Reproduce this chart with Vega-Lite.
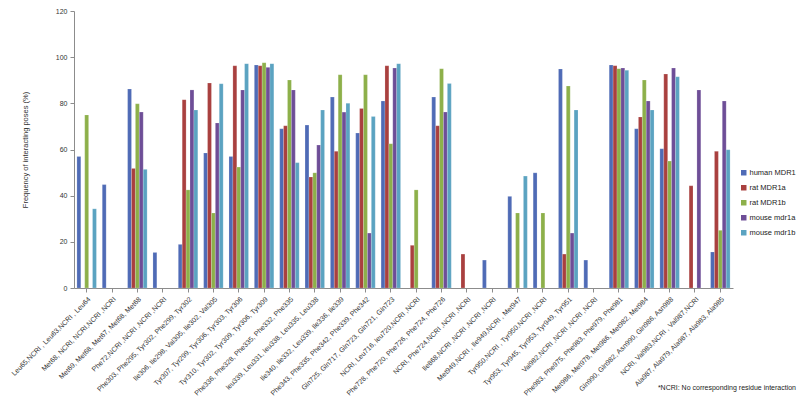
{
  "$schema": "https://vega.github.io/schema/vega-lite/v6.json",
  "width": 659,
  "height": 277,
  "autosize": {"type": "pad"},
  "padding": {"left": 9, "top": 7, "right": 7, "bottom": 0},
  "background": "white",
  "title": {
    "text": "*NCRI: No corresponding residue interaction",
    "orient": "bottom",
    "anchor": "end",
    "frame": "bounds",
    "font": "Liberation Sans",
    "fontSize": 7,
    "fontWeight": "normal",
    "color": "#222222",
    "offset": -12
  },
  "config": {
    "view": {"stroke": null},
    "font": "Liberation Sans",
    "axis": {
      "grid": false,
      "domainColor": "#8c8c8c",
      "tickColor": "#8c8c8c",
      "labelColor": "#333333",
      "labelFont": "Liberation Sans",
      "labelFontSize": 7,
      "titleFont": "Liberation Sans",
      "titleFontWeight": "normal",
      "titleFontSize": 7.5,
      "titleColor": "#333333"
    }
  },
  "data": {
    "values": [
      {"residue": "Leu65,NCRI , Leu63,NCRI , Leu64", "species": "human MDR1", "value": 57},
      {"residue": "Leu65,NCRI , Leu63,NCRI , Leu64", "species": "rat MDR1b", "value": 75},
      {"residue": "Leu65,NCRI , Leu63,NCRI , Leu64", "species": "mouse mdr1b", "value": 34.3},
      {"residue": "Met68, NCRI, NCRI,NCRI ,NCRI", "species": "human MDR1", "value": 44.8},
      {"residue": "Met69, Met68, Met67, Met68, Met68", "species": "human MDR1", "value": 86.2},
      {"residue": "Met69, Met68, Met67, Met68, Met68", "species": "rat MDR1a", "value": 51.8},
      {"residue": "Met69, Met68, Met67, Met68, Met68", "species": "rat MDR1b", "value": 79.8},
      {"residue": "Met69, Met68, Met67, Met68, Met68", "species": "mouse mdr1a", "value": 76.2},
      {"residue": "Met69, Met68, Met67, Met68, Met68", "species": "mouse mdr1b", "value": 51.4},
      {"residue": "Phe72,NCRI ,NCRI ,NCRI ,NCRI", "species": "human MDR1", "value": 15.4},
      {"residue": "Phe303, Phe295, Tyr302, Phe299, Tyr302", "species": "human MDR1", "value": 18.9},
      {"residue": "Phe303, Phe295, Tyr302, Phe299, Tyr302", "species": "rat MDR1a", "value": 81.6},
      {"residue": "Phe303, Phe295, Tyr302, Phe299, Tyr302", "species": "rat MDR1b", "value": 42.5},
      {"residue": "Phe303, Phe295, Tyr302, Phe299, Tyr302", "species": "mouse mdr1a", "value": 85.8},
      {"residue": "Phe303, Phe295, Tyr302, Phe299, Tyr302", "species": "mouse mdr1b", "value": 77.1},
      {"residue": "Ile306, Ile298, Val305, Ile302, Val305", "species": "human MDR1", "value": 58.5},
      {"residue": "Ile306, Ile298, Val305, Ile302, Val305", "species": "rat MDR1a", "value": 88.8},
      {"residue": "Ile306, Ile298, Val305, Ile302, Val305", "species": "rat MDR1b", "value": 32.5},
      {"residue": "Ile306, Ile298, Val305, Ile302, Val305", "species": "mouse mdr1a", "value": 71.5},
      {"residue": "Ile306, Ile298, Val305, Ile302, Val305", "species": "mouse mdr1b", "value": 88.5},
      {"residue": "Tyr307, Tyr299, Tyr306, Tyr303, Tyr306", "species": "human MDR1", "value": 57},
      {"residue": "Tyr307, Tyr299, Tyr306, Tyr303, Tyr306", "species": "rat MDR1a", "value": 96.3},
      {"residue": "Tyr307, Tyr299, Tyr306, Tyr303, Tyr306", "species": "rat MDR1b", "value": 52.4},
      {"residue": "Tyr307, Tyr299, Tyr306, Tyr303, Tyr306", "species": "mouse mdr1a", "value": 85.8},
      {"residue": "Tyr307, Tyr299, Tyr306, Tyr303, Tyr306", "species": "mouse mdr1b", "value": 97.2},
      {"residue": "Tyr310, Tyr302, Tyr309, Tyr306, Tyr309", "species": "human MDR1", "value": 96.6},
      {"residue": "Tyr310, Tyr302, Tyr309, Tyr306, Tyr309", "species": "rat MDR1a", "value": 96.3},
      {"residue": "Tyr310, Tyr302, Tyr309, Tyr306, Tyr309", "species": "rat MDR1b", "value": 97.6},
      {"residue": "Tyr310, Tyr302, Tyr309, Tyr306, Tyr309", "species": "mouse mdr1a", "value": 95.6},
      {"residue": "Tyr310, Tyr302, Tyr309, Tyr306, Tyr309", "species": "mouse mdr1b", "value": 97.2},
      {"residue": "Phe336, Phe328, Phe335, Phe332, Phe335", "species": "human MDR1", "value": 69},
      {"residue": "Phe336, Phe328, Phe335, Phe332, Phe335", "species": "rat MDR1a", "value": 70.3},
      {"residue": "Phe336, Phe328, Phe335, Phe332, Phe335", "species": "rat MDR1b", "value": 90.1},
      {"residue": "Phe336, Phe328, Phe335, Phe332, Phe335", "species": "mouse mdr1a", "value": 85.8},
      {"residue": "Phe336, Phe328, Phe335, Phe332, Phe335", "species": "mouse mdr1b", "value": 54.3},
      {"residue": "leu339, Leu331, leu338, Leu335, Leu338", "species": "human MDR1", "value": 70.6},
      {"residue": "leu339, Leu331, leu338, Leu335, Leu338", "species": "rat MDR1a", "value": 48.1},
      {"residue": "leu339, Leu331, leu338, Leu335, Leu338", "species": "rat MDR1b", "value": 49.9},
      {"residue": "leu339, Leu331, leu338, Leu335, Leu338", "species": "mouse mdr1a", "value": 61.9},
      {"residue": "leu339, Leu331, leu338, Leu335, Leu338", "species": "mouse mdr1b", "value": 77.1},
      {"residue": "Ile340, Ile332, Leu339, Ile336, Ile339", "species": "human MDR1", "value": 82.7},
      {"residue": "Ile340, Ile332, Leu339, Ile336, Ile339", "species": "rat MDR1a", "value": 59.2},
      {"residue": "Ile340, Ile332, Leu339, Ile336, Ile339", "species": "rat MDR1b", "value": 92.4},
      {"residue": "Ile340, Ile332, Leu339, Ile336, Ile339", "species": "mouse mdr1a", "value": 76.2},
      {"residue": "Ile340, Ile332, Leu339, Ile336, Ile339", "species": "mouse mdr1b", "value": 80},
      {"residue": "Phe343, Phe335, Phe342, Phe339, Phe342", "species": "human MDR1", "value": 67.1},
      {"residue": "Phe343, Phe335, Phe342, Phe339, Phe342", "species": "rat MDR1a", "value": 77.8},
      {"residue": "Phe343, Phe335, Phe342, Phe339, Phe342", "species": "rat MDR1b", "value": 92.4},
      {"residue": "Phe343, Phe335, Phe342, Phe339, Phe342", "species": "mouse mdr1a", "value": 23.8},
      {"residue": "Phe343, Phe335, Phe342, Phe339, Phe342", "species": "mouse mdr1b", "value": 74.3},
      {"residue": "Gln725, Gln717, Gln723, Gln721, Gln723", "species": "human MDR1", "value": 81},
      {"residue": "Gln725, Gln717, Gln723, Gln721, Gln723", "species": "rat MDR1a", "value": 96.3},
      {"residue": "Gln725, Gln717, Gln723, Gln721, Gln723", "species": "rat MDR1b", "value": 62.5},
      {"residue": "Gln725, Gln717, Gln723, Gln721, Gln723", "species": "mouse mdr1a", "value": 95.3},
      {"residue": "Gln725, Gln717, Gln723, Gln721, Gln723", "species": "mouse mdr1b", "value": 97.2},
      {"residue": "NCRI, Leu716, leu720,NCRI ,NCRI", "species": "rat MDR1a", "value": 18.5},
      {"residue": "NCRI, Leu716, leu720,NCRI ,NCRI", "species": "rat MDR1b", "value": 42.5},
      {"residue": "Phe728, Phe720, Phe726, Phe724, Phe726", "species": "human MDR1", "value": 82.7},
      {"residue": "Phe728, Phe720, Phe726, Phe724, Phe726", "species": "rat MDR1a", "value": 70.3},
      {"residue": "Phe728, Phe720, Phe726, Phe724, Phe726", "species": "rat MDR1b", "value": 95},
      {"residue": "Phe728, Phe720, Phe726, Phe724, Phe726", "species": "mouse mdr1a", "value": 76.2},
      {"residue": "Phe728, Phe720, Phe726, Phe724, Phe726", "species": "mouse mdr1b", "value": 88.6},
      {"residue": "NCRI, Phe724,NCRI ,NCRI ,NCRI", "species": "rat MDR1a", "value": 14.7},
      {"residue": "Ile868,NCRI ,NCRI ,NCRI ,NCRI", "species": "human MDR1", "value": 12.1},
      {"residue": "Met949,NCRI , Ile949,NCRI , Met947", "species": "human MDR1", "value": 39.7},
      {"residue": "Met949,NCRI , Ile949,NCRI , Met947", "species": "rat MDR1b", "value": 32.5},
      {"residue": "Met949,NCRI , Ile949,NCRI , Met947", "species": "mouse mdr1b", "value": 48.5},
      {"residue": "Tyr950,NCRI , Tyr950,NCRI ,NCRI", "species": "human MDR1", "value": 49.9},
      {"residue": "Tyr950,NCRI , Tyr950,NCRI ,NCRI", "species": "rat MDR1b", "value": 32.5},
      {"residue": "Tyr953, Tyr945, Tyr953, Tyr949, Tyr951", "species": "human MDR1", "value": 94.9},
      {"residue": "Tyr953, Tyr945, Tyr953, Tyr949, Tyr951", "species": "rat MDR1a", "value": 14.7},
      {"residue": "Tyr953, Tyr945, Tyr953, Tyr949, Tyr951", "species": "rat MDR1b", "value": 87.5},
      {"residue": "Tyr953, Tyr945, Tyr953, Tyr949, Tyr951", "species": "mouse mdr1a", "value": 23.8},
      {"residue": "Tyr953, Tyr945, Tyr953, Tyr949, Tyr951", "species": "mouse mdr1b", "value": 77.1},
      {"residue": "Val982,NCRI ,NCRI ,NCRI ,NCRI", "species": "human MDR1", "value": 12.1},
      {"residue": "Phe983, Phe975, Phe983, Phe979, Phe981", "species": "human MDR1", "value": 96.6},
      {"residue": "Phe983, Phe975, Phe983, Phe979, Phe981", "species": "rat MDR1a", "value": 96.3},
      {"residue": "Phe983, Phe975, Phe983, Phe979, Phe981", "species": "rat MDR1b", "value": 95},
      {"residue": "Phe983, Phe975, Phe983, Phe979, Phe981", "species": "mouse mdr1a", "value": 95.3},
      {"residue": "Phe983, Phe975, Phe983, Phe979, Phe981", "species": "mouse mdr1b", "value": 94.3},
      {"residue": "Met986, Met978, Met986, Met982, Met984", "species": "human MDR1", "value": 69},
      {"residue": "Met986, Met978, Met986, Met982, Met984", "species": "rat MDR1a", "value": 74.1},
      {"residue": "Met986, Met978, Met986, Met982, Met984", "species": "rat MDR1b", "value": 90.1},
      {"residue": "Met986, Met978, Met986, Met982, Met984", "species": "mouse mdr1a", "value": 81},
      {"residue": "Met986, Met978, Met986, Met982, Met984", "species": "mouse mdr1b", "value": 77.1},
      {"residue": "Gln990, Gln982, Asn990, Gln986, Asn988", "species": "human MDR1", "value": 60.3},
      {"residue": "Gln990, Gln982, Asn990, Gln986, Asn988", "species": "rat MDR1a", "value": 92.7},
      {"residue": "Gln990, Gln982, Asn990, Gln986, Asn988", "species": "rat MDR1b", "value": 55},
      {"residue": "Gln990, Gln982, Asn990, Gln986, Asn988", "species": "mouse mdr1a", "value": 95.3},
      {"residue": "Gln990, Gln982, Asn990, Gln986, Asn988", "species": "mouse mdr1b", "value": 91.5},
      {"residue": "NCRI, Val983,NCRI , Val987,NCRI", "species": "rat MDR1a", "value": 44.3},
      {"residue": "NCRI, Val983,NCRI , Val987,NCRI", "species": "mouse mdr1a", "value": 85.8},
      {"residue": "Ala987, Ala979, Ala987, Ala983, Ala985", "species": "human MDR1", "value": 15.6},
      {"residue": "Ala987, Ala979, Ala987, Ala983, Ala985", "species": "rat MDR1a", "value": 59.2},
      {"residue": "Ala987, Ala979, Ala987, Ala983, Ala985", "species": "rat MDR1b", "value": 25},
      {"residue": "Ala987, Ala979, Ala987, Ala983, Ala985", "species": "mouse mdr1a", "value": 81},
      {"residue": "Ala987, Ala979, Ala987, Ala983, Ala985", "species": "mouse mdr1b", "value": 59.9}
    ]
  },
  "mark": {"type": "bar", "stroke": "white", "strokeWidth": 0.3, "strokeOpacity": 0.6},
  "encoding": {
    "x": {
      "field": "residue",
      "type": "nominal",
      "sort": null,
      "scale": {"paddingInner": 0.23, "paddingOuter": 0.115},
      "axis": {"title": null, "labelAngle": -45, "labelPadding": 3, "tickSize": 4, "labelLimit": 200, "labelOverlap": false}
    },
    "xOffset": {
      "field": "species",
      "type": "nominal",
      "sort": ["human MDR1", "rat MDR1a", "rat MDR1b", "mouse mdr1a", "mouse mdr1b"],
      "scale": {"domain": ["human MDR1", "rat MDR1a", "rat MDR1b", "mouse mdr1a", "mouse mdr1b"], "paddingInner": 0, "paddingOuter": 0}
    },
    "y": {
      "field": "value",
      "type": "quantitative",
      "scale": {"domain": [0, 120]},
      "axis": {"values": [0, 20, 40, 60, 80, 100, 120], "title": "Frequency of interacting poses (%)", "tickSize": 4, "labelPadding": 3, "titlePadding": 26}
    },
    "color": {
      "field": "species",
      "type": "nominal",
      "scale": {
        "domain": ["human MDR1", "rat MDR1a", "rat MDR1b", "mouse mdr1a", "mouse mdr1b"],
        "range": ["#4F6BB6", "#A9403F", "#8DB04A", "#6E4E97", "#5BA3C1"]
      },
      "legend": {
        "title": null,
        "orient": "none",
        "legendX": 666,
        "legendY": 158,
        "symbolType": "square",
        "symbolSize": 30,
        "symbolStrokeWidth": 0,
        "labelFont": "Liberation Sans",
        "labelFontSize": 7.5,
        "labelColor": "#222222",
        "rowPadding": 6,
        "labelOffset": 2
      }
    }
  }
}
